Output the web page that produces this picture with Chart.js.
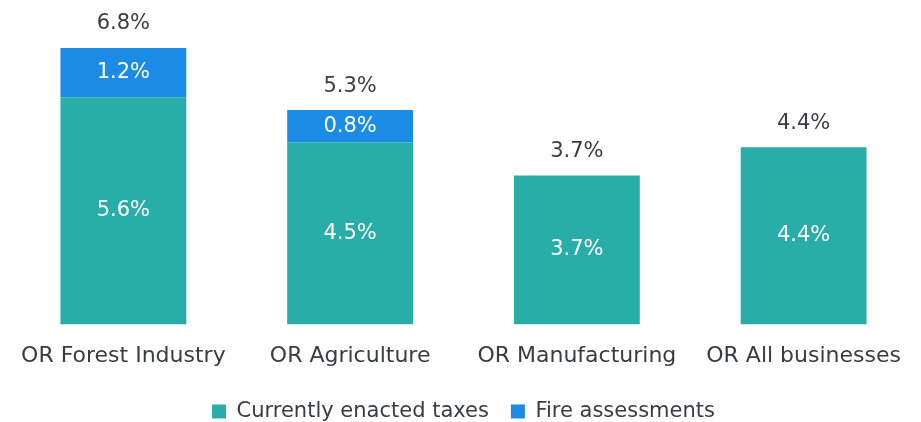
<!DOCTYPE html>
<html>
<head>
<meta charset="utf-8">
<script src="https://cdn.jsdelivr.net/npm/chart.js@4/dist/chart.umd.min.js"></script>
<style>
  html, body { margin: 0; padding: 0; background: #ffffff; }
  #wrap { width: 921px; height: 422px; position: relative; }
</style>
</head>
<body>
<div id="wrap"><canvas id="taxChart"></canvas></div>
<script>
// Data
const categories = ['OR Forest Industry', 'OR Agriculture', 'OR Manufacturing', 'OR All businesses'];
const enactedTaxes = [5.64, 4.52, 3.70, 4.40];
const fireAssessments = [1.22, 0.80, 0, 0];
const enactedLabels = ['5.6%', '4.5%', '3.7%', '4.4%'];
const fireLabels = ['1.2%', '0.8%', '', ''];
const totalLabels = ['6.8%', '5.3%', '3.7%', '4.4%'];

const textColor = '#3b3b45';
const fontFamily = '"DejaVu Sans", sans-serif';

// Draws the value labels inside the bars and the totals above them
const barLabels = {
    id: 'barLabels',
    afterDatasetsDraw(chart) {
        const ctx = chart.ctx;
        const inside = [enactedLabels, fireLabels];
        ctx.save();
        ctx.font = '21px ' + fontFamily;
        ctx.textAlign = 'center';
        ctx.textBaseline = 'middle';
        chart.data.datasets.forEach(function(ds, i) {
            const meta = chart.getDatasetMeta(i);
            meta.data.forEach(function(bar, j) {
                if (!ds.data[j]) return;
                ctx.fillStyle = '#ffffff';
                ctx.fillText(inside[i][j], bar.x, (bar.y + bar.base) / 2);
            });
        });
        categories.forEach(function(c, j) {
            let topY = Infinity, x = 0;
            chart.data.datasets.forEach(function(ds, i) {
                const bar = chart.getDatasetMeta(i).data[j];
                if (ds.data[j] && bar.y < topY) { topY = bar.y; x = bar.x; }
            });
            ctx.fillStyle = textColor;
            ctx.fillText(totalLabels[j], x, topY - 24);
        });
        ctx.restore();
    }
};

const ctx = document.getElementById('taxChart').getContext('2d');
new Chart(ctx, {
    type: 'bar',
    data: {
        labels: categories,
        datasets: [
            {
                label: 'Currently enacted taxes',
                data: enactedTaxes,
                backgroundColor: '#29ada9',
                barPercentage: 0.555,
                categoryPercentage: 1
            },
            {
                label: 'Fire assessments',
                data: fireAssessments,
                backgroundColor: '#1b8be6',
                barPercentage: 0.555,
                categoryPercentage: 1
            }
        ]
    },
    options: {
        responsive: true,
        maintainAspectRatio: false,
        animation: false,
        layout: {
            padding: { left: 10, right: 4, top: 2, bottom: -10 }
        },
        plugins: {
            legend: {
                position: 'bottom',
                labels: {
                    color: textColor,
                    font: { family: fontFamily, size: 21 },
                    boxWidth: 14,
                    boxHeight: 14,
                    padding: 22
                }
            },
            tooltip: { enabled: false }
        },
        scales: {
            x: {
                stacked: true,
                grid: { display: false },
                border: { display: false },
                ticks: {
                    color: textColor,
                    font: { family: fontFamily, size: 22 },
                    padding: 10,
                    maxRotation: 0
                }
            },
            y: {
                stacked: true,
                display: false,
                min: 0,
                max: 8
            }
        }
    },
    plugins: [barLabels]
});
</script>
</body>
</html>
